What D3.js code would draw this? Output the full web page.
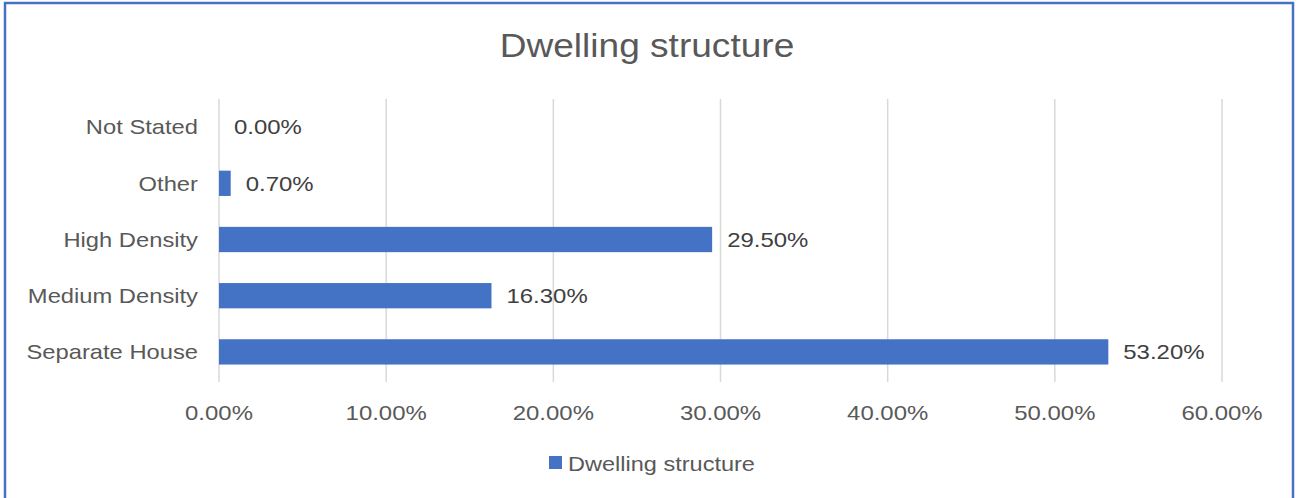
<!DOCTYPE html>
<html>
  <head>
    <meta charset="utf-8" />
    <title>Dwelling structure</title>
    <style>
      body {
        margin: 0;
        background: #fff;
      }
      text {
        font-family: 'Liberation Sans', Arial, sans-serif;
      }
      .grid line {
        stroke: #d9d9d9;
        stroke-width: 1.5px;
      }
    </style>
    <script src="https://d3js.org/d3.v7.min.js"></script>
  </head>
  <body>
    <svg width="1301" height="498"></svg>
    <script>
      // data (from bottom to top as in the chart)
      var categories = ['Separate House', 'Medium Density', 'High Density', 'Other', 'Not Stated']
      var values = [53.2, 16.3, 29.5, 0.7, 0.0]
      var ticks = [0, 10, 20, 30, 40, 50, 60]
      var seriesName = 'Dwelling structure'

      var svg = d3.select('svg')
      var blue = '#4472c4'

      // the original text is a bit wider than Liberation Sans
      function widen(sel, k) {
        sel.each(function () {
          var w = this.getComputedTextLength()
          d3.select(this).attr('textLength', w * k).attr('lengthAdjust', 'spacingAndGlyphs')
        })
      }

      // outer frame (open at the bottom)
      svg
        .append('path')
        .attr('d', 'M5,498 V3 H1293 V498')
        .attr('fill', 'none')
        .attr('stroke', blue)
        .attr('stroke-width', 2.5)

      // title
      svg
        .append('text')
        .attr('x', 647)
        .attr('y', 57)
        .attr('text-anchor', 'middle')
        .style('font-size', '34px')
        .style('fill', '#595959')
        .text(seriesName)
        .call(widen, 1.09)

      var x = d3.scaleLinear().domain([0, 60]).range([219, 1222])
      var y = d3
        .scaleBand()
        .domain(categories.slice().reverse())
        .range([99, 380])
        .paddingInner(0.55)
        .paddingOuter(0.275)

      // gridlines
      svg
        .append('g')
        .attr('class', 'grid')
        .selectAll('line')
        .data(ticks)
        .enter()
        .append('line')
        .attr('x1', function (d) {
          return x(d)
        })
        .attr('x2', function (d) {
          return x(d)
        })
        .attr('y1', 99)
        .attr('y2', 382)

      // bars
      svg
        .selectAll('.bar')
        .data(values)
        .enter()
        .append('rect')
        .attr('class', 'bar')
        .attr('x', x(0))
        .attr('y', function (d, i) {
          return y(categories[i])
        })
        .attr('width', function (d) {
          return x(d) - x(0)
        })
        .attr('height', y.bandwidth())
        .attr('fill', blue)

      // value labels
      svg
        .selectAll('.val')
        .data(values)
        .enter()
        .append('text')
        .attr('class', 'val')
        .attr('x', function (d) {
          return x(d) + 15
        })
        .attr('y', function (d, i) {
          return y(categories[i]) + y.bandwidth() / 2
        })
        .attr('dy', '0.35em')
        .style('font-size', '21px')
        .style('fill', '#404040')
        .text(function (d) {
          return d.toFixed(2) + '%'
        })
        .call(widen, 1.14)

      // category axis labels
      svg
        .selectAll('.cat')
        .data(categories)
        .enter()
        .append('text')
        .attr('class', 'cat')
        .attr('x', 198)
        .attr('y', function (d) {
          return y(d) + y.bandwidth() / 2
        })
        .attr('dy', '0.35em')
        .attr('text-anchor', 'end')
        .style('font-size', '21px')
        .style('fill', '#595959')
        .text(function (d) {
          return d
        })
        .call(widen, 1.13)

      // x tick labels
      svg
        .selectAll('.tick-label')
        .data(ticks)
        .enter()
        .append('text')
        .attr('class', 'tick-label')
        .attr('x', function (d) {
          return x(d)
        })
        .attr('y', 420)
        .attr('text-anchor', 'middle')
        .style('font-size', '21px')
        .style('fill', '#595959')
        .text(function (d) {
          return d.toFixed(2) + '%'
        })
        .call(widen, 1.14)

      // legend
      var lg = svg.append('g')
      lg.append('rect').attr('x', 549).attr('y', 456).attr('width', 13).attr('height', 13).attr('fill', blue)
      lg.append('text')
        .attr('x', 568)
        .attr('y', 471)
        .style('font-size', '21px')
        .style('fill', '#595959')
        .text(seriesName)
        .call(widen, 1.12)
    </script>
  </body>
</html>
